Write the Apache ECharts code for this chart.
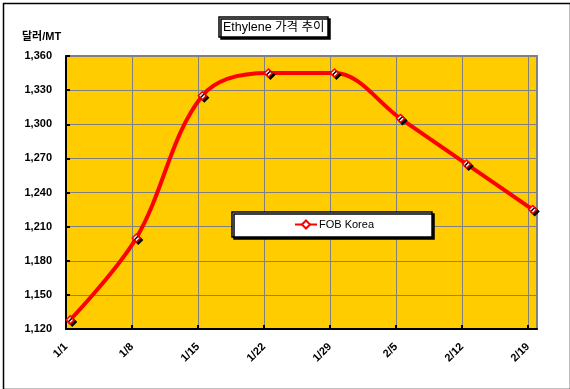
<!DOCTYPE html>
<html>
<head>
<meta charset="utf-8">
<script src="https://cdn.jsdelivr.net/npm/echarts@6/dist/echarts.min.js"></script>
<style>html,body{margin:0;padding:0;background:#fff}#c{width:570px;height:389px}</style>
</head>
<body>
<div id="c"></div>
<script>
var categories = ['1/1', '1/8', '1/15', '1/22', '1/29', '2/5', '2/12', '2/19'];
var dayOffsets = [0, 7, 14, 21, 28, 35, 42, 49];
var fobKorea = [1128, 1200, 1325, 1345, 1345, 1305, 1265, 1225];
var yBase = 1120;
var yTop = 1360;
var yStep = 30;

var FONT = '"Liberation Sans", Arial, "Noto Sans CJK KR", sans-serif';
var chart = echarts.init(document.getElementById('c'), null, {renderer: 'canvas'});

function fmtNum(v) {
  return String(v).replace(/\B(?=(\d{3})+(?!\d))/g, ',');
}

var option = {
  backgroundColor: '#ffffff',
  animation: false,
  title: {
    text: 'Ethylene 가격 추이',
    left: 219,
    top: 17,
    padding: [4, 4, 4, 4],
    borderColor: '#000',
    borderWidth: 1.5,
    backgroundColor: '#fff',
    shadowColor: '#000',
    shadowOffsetX: 2,
    shadowOffsetY: 2,
    shadowBlur: 0,
    textStyle: {fontFamily: FONT, fontSize: 12.5, fontWeight: 'normal', color: '#000'}
  },
  legend: {
    left: 232,
    top: 212,
    padding: [7, 58, 7, 62],
    itemWidth: 22,
    itemHeight: 10,
    itemGap: 0,
    backgroundColor: '#fff',
    borderColor: '#000',
    borderWidth: 1.5,
    shadowColor: '#000',
    shadowOffsetX: 2,
    shadowOffsetY: 2,
    shadowBlur: 0,
    textStyle: {fontFamily: FONT, fontSize: 11, color: '#000', padding: [0, 0, 0, -3]},
    data: ['FOB Korea']
  },
  graphic: [
    {type: 'rect', left: 1, top: 1, shape: {width: 567, height: 386}, style: {fill: 'none', stroke: '#000', lineWidth: 1.5}, z: 100},
    {type: 'text', left: 22, top: 31, style: {text: '달러/MT', font: 'bold 11px ' + FONT, fill: '#000'}}
  ],
  grid: {
    left: 66, top: 56, right: 33, bottom: 60,
    show: true,
    backgroundColor: '#FFCC00',
    borderColor: '#808080',
    borderWidth: 2
  },
  xAxis: [
    {
      type: 'value',
      min: 0,
      max: 49.95,
      interval: 7,
      axisLine: {show: true, onZero: false, lineStyle: {color: '#000', width: 2}},
      axisTick: {show: true, inside: true, length: 4, lineStyle: {color: '#000', width: 2}},
      splitLine: {show: true, lineStyle: {color: '#808080', width: 1}},
      axisLabel: {
        rotate: 45,
        margin: 16,
        fontFamily: FONT,
        fontSize: 11,
        fontWeight: 'bold',
        color: '#000',
        showMaxLabel: false,
        formatter: function (v) {
          var i = dayOffsets.indexOf(v);
          return i >= 0 ? categories[i] : '';
        }
      }
    },
    {
      type: 'value',
      min: -0.445,
      max: 49.455,
      show: false,
      splitLine: {show: false}
    }
  ],
  yAxis: {
    type: 'value',
    min: 0,
    max: yTop - yBase,
    interval: yStep,
    axisLine: {show: true, lineStyle: {color: '#000', width: 2}},
    axisTick: {show: true, inside: true, length: 4, lineStyle: {color: '#000', width: 2}},
    splitLine: {show: true, lineStyle: {color: '#808080', width: 1}},
    axisLabel: {
      margin: 14,
      fontFamily: FONT,
      fontSize: 11,
      fontWeight: 'bold',
      color: '#000',
      formatter: function (v) { return fmtNum(v + yBase); }
    }
  },
  series: [
    {
      name: 'FOB Korea',
      type: 'line',
      xAxisIndex: 1,
      smooth: 0.35,
      data: fobKorea.map(function (v, i) { return [dayOffsets[i], v - yBase]; }),
      lineStyle: {color: '#FF0000', width: 4},
      symbol: 'diamond',
      symbolSize: 8,
      itemStyle: {
        color: '#fff',
        borderColor: '#FF0000',
        borderWidth: 1.5,
        shadowColor: '#000',
        shadowOffsetX: 2,
        shadowOffsetY: 2,
        shadowBlur: 0
      },
      z: 5
    }
  ]
};
chart.setOption(option);
</script>
</body>
</html>
